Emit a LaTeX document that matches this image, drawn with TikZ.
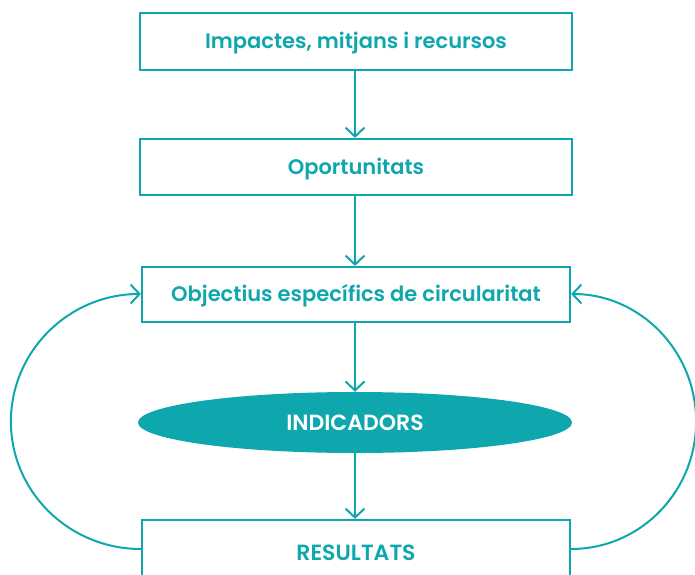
\documentclass[tikz,border=0pt]{standalone}
\usepackage{fontspec}
\setmainfont{Poppins}[BoldFont={Poppins SemiBold}]
\usetikzlibrary{arrows.meta,shapes.geometric}
\definecolor{teal1}{HTML}{0FA7AE}
\tikzset{
  boxnode/.style={draw=teal1, line width=2.2pt, fill=white, text=teal1, font=\fontsize{21}{24}\selectfont\bfseries, inner sep=0pt, text height=14.7pt, text depth=0pt},
  capsfont/.style={font=\fontsize{22}{25}\selectfont\bfseries, text height=15.4pt, text depth=0pt},
  ellnode/.style={ellipse, fill=teal1, text=white, inner sep=0pt},
  conn/.style={draw=teal1, line width=2pt, -{Straight Barb[length=9pt,width=19pt,line width=2pt]}}
}
\begin{document}
\begin{tikzpicture}[x=1pt,y=1pt]
\useasboundingbox (0,0) rectangle (695,574);
\clip (0,0) rectangle (695,574);
\node[boxnode, minimum width=432pt, minimum height=57pt] (b1) at (356,532.5) {Impactes, mitjans i recursos};
\node[boxnode, minimum width=432pt, minimum height=56pt] (b2) at (356,407) {Oportunitats};
\node[boxnode, minimum width=428pt, minimum height=55pt] (b3) at (356,279.5) {Objectius específics de circularitat};
\node[ellnode, capsfont, minimum width=434pt, minimum height=61pt] (e) at (355,151.5) {INDICADORS};
\node[boxnode, capsfont, minimum width=428pt, minimum height=66pt] (b4) at (356,21) {RESULTATS};
\draw[conn] (b1.south -| 355,0) -- (b2.north -| 355,0);
\draw[conn] (b2.south -| 355,0) -- (b3.north -| 355,0);
\draw[conn] (b3.south -| 355,0) -- (e.north);
\draw[conn] (e.south) -- (b4.north -| 355,0);
\draw[conn] ([yshift=4pt]b4.west) arc[start angle=270, end angle=90, x radius=130, y radius=127.5];
\draw[conn] ([yshift=4pt]b4.east) arc[start angle=-90, end angle=90, x radius=125, y radius=127.5];
\end{tikzpicture}
\end{document}
